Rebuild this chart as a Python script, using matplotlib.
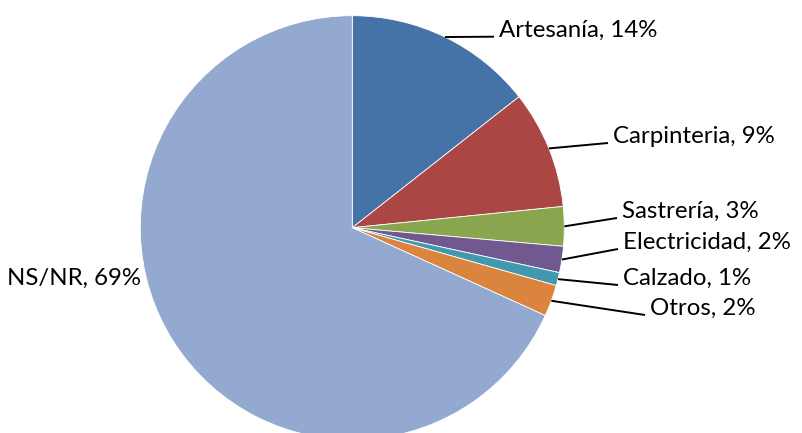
import numpy as np
import matplotlib
matplotlib.use("Agg")
import matplotlib.pyplot as plt

categories = ["Artesanía", "Carpinteria", "Sastrería", "Electricidad", "Calzado", "Otros", "NS/NR"]
values = [14.4, 9.0, 3.0, 2.0, 1.0, 2.4, 68.2]
pct_labels = ["14%", "9%", "3%", "2%", "1%", "2%", "69%"]
colors = ["#4572A7", "#AA4643", "#89A54E", "#71588F", "#4198AF", "#DB843D", "#93A9D0"]

W, H = 802, 433
fig = plt.figure(figsize=(W / 100, H / 100), dpi=100)
ax = fig.add_axes([0, 0, 1, 1])

cx, cy, R = 352.3, H - 227.7, 212
wedges, _ = ax.pie(values, colors=colors, startangle=90, counterclock=False,
                   center=(cx, cy), radius=R, frame=True,
                   wedgeprops=dict(edgecolor="white", linewidth=0.6))
ax.set_xlim(0, W)
ax.set_ylim(0, H)
ax.set_aspect("equal")
ax.axis("off")

# label anchors (end of leader lines), in pixel coords from top
anchors = [(494, 36.7), (608, 143), (617, 218), (618, 249), (618, 285), (645, 315), None]
font = dict(family="Lato", size=17.3, color="black")

for w, cat, pl, anc in zip(wedges, categories, pct_labels, anchors):
    text = f"{cat}, {pl}"
    if anc is None:
        ax.text(74, H - 285, text, ha="center", va="baseline", **font)
        continue
    mid = np.deg2rad((w.theta1 + w.theta2) / 2)
    sx, sy = cx + R * np.cos(mid), cy + R * np.sin(mid)
    ex, ey = anc[0], H - anc[1]
    ax.plot([sx, ex], [sy, ey], color="black", lw=1.4, solid_capstyle="butt")
    ax.text(ex + 5, ey, text, ha="left", va="baseline", **font)

fig.savefig("out.png", dpi=100)
